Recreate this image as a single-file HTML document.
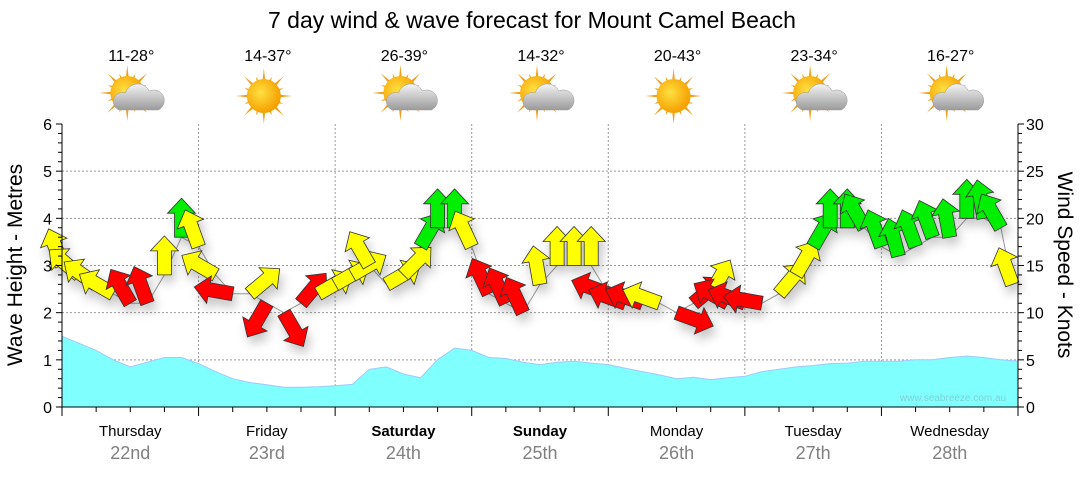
<!DOCTYPE html>
<html><head><meta charset="utf-8"><style>
body{margin:0;background:#fff;}
svg text{font-family:"Liberation Sans",sans-serif;}
</style></head><body>
<svg id="c" width="1080" height="475" viewBox="0 0 1080 475" xmlns="http://www.w3.org/2000/svg">
<defs>
<filter id="sh" x="-50%" y="-50%" width="200%" height="200%"><feDropShadow dx="3" dy="7" stdDeviation="5" flood-color="#000" flood-opacity="0.22"/></filter>
<radialGradient id="sun" cx="0.4" cy="0.4" r="0.6"><stop offset="0" stop-color="#ffe040"/><stop offset="1" stop-color="#f5a000"/></radialGradient>
<linearGradient id="cloud" x1="0" y1="0" x2="0" y2="1"><stop offset="0" stop-color="#f4f4f4"/><stop offset="1" stop-color="#9a9a9a"/></linearGradient>
</defs>
<text x="532" y="28" font-size="23" text-anchor="middle" fill="#000">7 day wind &amp; wave forecast for Mount Camel Beach</text>
<g id="grid"></g>
<g id="wave"></g>
<g id="arrows"></g>
<g id="axes"></g>
<g id="icons"></g>
<text x="953" y="401" font-size="10" fill="#7fd0d8" text-anchor="middle">www.seabreeze.com.au</text>
<text transform="translate(22,265) rotate(-90)" font-size="21" text-anchor="middle">Wave Height - Metres</text>
<text transform="translate(1058,265) rotate(90)" font-size="21" text-anchor="middle">Wind Speed - Knots</text>
</svg>
<script>
const days=["Thursday","Friday","Saturday","Sunday","Monday","Tuesday","Wednesday"];
const dates=["22nd","23rd","24th","25th","26th","27th","28th"];
const temps=["11-28°","14-37°","26-39°","14-32°","20-43°","23-34°","16-27°"];
const cloudy=[1,0,1,1,0,1,1];
const waveHours=[];for(let h=0;h<=168;h+=3)waveHours.push(h);
const waveValues=[1.5,1.35,1.2,1.0,0.85,0.95,1.05,1.05,0.92,0.75,0.6,0.52,0.47,0.42,0.42,0.43,0.45,0.48,0.8,0.85,0.7,0.62,1.0,1.25,1.2,1.05,1.03,0.95,0.9,0.95,0.97,0.93,0.9,0.82,0.75,0.68,0.6,0.63,0.58,0.62,0.65,0.75,0.8,0.85,0.88,0.92,0.93,0.97,0.97,0.97,1.0,1.0,1.05,1.08,1.05,1.0,0.97];
const windHours=[0,3,6,9,12,15,18,21,24,27,30,33,36,39,42,45,48,51,54,57,60,63,66,69,72,75,78,81,84,87,90,93,96,99,102,105,108,111,114,117,120,123,126,129,132,135,138,141,144,147,150,153,156,159,162,165,167];
const windSpeed=[15,14,13,12,11,11,14,18,17,14,12,12,11,10,11,12,13,14,15,13,14,17,19,19,17,12,11,10,13,15,15,15,12,11,11,11,10,11,12,11,11,11,12,14,17,19,19,19,17,16,17,18,18,20,20,19,13];
const windDir=[-20,-50,-55,-60,-30,-20,0,0,-20,-60,-80,50,210,150,40,60,60,60,-30,60,45,30,0,0,-25,-25,-25,-25,-10,0,0,0,-70,-70,-70,-70,110,50,30,-60,-70,-80,40,30,30,0,0,-30,-20,-15,-20,-20,-10,0,-10,-30,-20];
const windCol=["Y","Y","Y","Y","R","R","Y","G","Y","Y","R","Y","R","R","R","Y","Y","Y","Y","Y","Y","G","G","G","Y","R","R","R","Y","Y","Y","Y","R","R","R","Y","R","R","Y","R","R","R","Y","Y","G","G","G","G","G","G","G","G","G","G","G","G","Y"];
const X0=62,X1=1018,Y0=407,Y6=124;
const xs=h=>X0+h*(X1-X0)/168;
const yw=v=>Y0-v*(Y0-Y6)/6;
const yk=v=>Y0-v*(Y0-Y6)/30;
const NS="http://www.w3.org/2000/svg";
function mk(t,a,p){const e=document.createElementNS(NS,t);for(const k in a)e.setAttribute(k,a[k]);p.appendChild(e);return e;}
const grid=document.getElementById('grid'),axes=document.getElementById('axes');
for(let i=1;i<=5;i++){const l=mk('line',{x1:X0,x2:X1,y1:yw(i),y2:yw(i),stroke:'#999','stroke-dasharray':'2,2','stroke-width':1},grid);

}
for(let d=1;d<7;d++){const l=mk('line',{x1:xs(d*24),x2:xs(d*24),y1:Y6,y2:Y0,stroke:'#999','stroke-dasharray':'2,2'},grid);

}
let d='M'+xs(0)+','+Y0;waveHours.forEach((h,i)=>{d+=' L'+xs(h).toFixed(1)+','+yw(waveValues[i]).toFixed(1);});d+=' L'+X1+','+Y0+' Z';
const wa=mk('path',{d:d,fill:'#80ffff',stroke:'#a0c8ff','stroke-width':1},document.getElementById('wave'));


const ag=document.getElementById('arrows');
let ld='';windHours.forEach((h,i)=>{ld+=(i?' L':'M')+xs(h).toFixed(1)+','+yk(windSpeed[i]).toFixed(1);});
mk('path',{d:ld,fill:'none',stroke:'#999','stroke-width':1},ag);
const cols={Y:'#ffff00',R:'#ff0000',G:'#00ee00'};
const sg=mk('g',{filter:'url(#sh)'},ag);
windHours.forEach((h,i)=>{
 const p=mk('polygon',{points:'-7,0 7,0 7,-24 14,-24 0,-39 -14,-24 -7,-24',fill:cols[windCol[i]],stroke:'#333','stroke-width':0.8,transform:`translate(${xs(h).toFixed(1)},${yk(windSpeed[i]).toFixed(1)}) rotate(${windDir[i]})`},sg);
 
 
});
mk('line',{x1:X0,x2:X0,y1:Y6,y2:Y0,stroke:'#000'},axes);
mk('line',{x1:X1,x2:X1,y1:Y6,y2:Y0,stroke:'#000'},axes);
mk('line',{x1:X0,x2:X1,y1:Y0,y2:Y0,stroke:'#000'},axes);
for(let k=0;k<=30;k++){const y=yk(k),L=k%5==0?6:4;
 mk('line',{x1:X0-L,x2:X0,y1:y,y2:y,stroke:'#000'},axes);
 mk('line',{x1:X1,x2:X1+L,y1:y,y2:y,stroke:'#000'},axes);}
for(let v=0;v<=6;v++){const t=mk('text',{x:X0-10,y:yw(v)+6,'font-size':16,'text-anchor':'end'},axes);t.textContent=v;

}
for(let v=0;v<=30;v+=5){const t=mk('text',{x:X1+8,y:yk(v)+6,'font-size':16},axes);t.textContent=v;

}
for(let h=0;h<=168;h+=6){const maj=h%24==0;mk('line',{x1:xs(h),x2:xs(h),y1:Y0,y2:Y0+(maj?9:5),stroke:'#000'},axes);}
const icons=document.getElementById('icons');
days.forEach((dn,i)=>{const cx=xs(i*24+12);
 const t=mk('text',{x:cx,y:436,'font-size':15,'text-anchor':'middle','font-weight':(i==2||i==3)?'bold':'normal'},axes);t.textContent=dn;
 
 
 const t2=mk('text',{x:cx,y:459,'font-size':18,'text-anchor':'middle',fill:'#808080'},axes);t2.textContent=dates[i];
 
 
 const t3=mk('text',{x:cx+1,y:61,'font-size':16,'text-anchor':'middle'},icons);t3.textContent=temps[i];
 
 
 const g=mk('g',{transform:`translate(${cx-3},${cloudy[i]?93:96})`},icons);
 
 
 for(let r=0;r<16;r++){const a=r*Math.PI/8,L=r%2?21:28;
  mk('polygon',{points:`${Math.cos(a-0.13)*13},${Math.sin(a-0.13)*13} ${Math.cos(a)*L},${Math.sin(a)*L} ${Math.cos(a+0.13)*13},${Math.sin(a+0.13)*13}`,fill:'#f0a020'},g);}
 mk('circle',{cx:0,cy:0,r:17,fill:'url(#sun)'},g);
 if(cloudy[i]){mk('path',{d:'M-8,17 A9,9 0 0 1 -2,0 A13,13 0 0 1 22,-2 A9,9 0 0 1 31,17 Z',fill:'url(#cloud)',stroke:'#999','stroke-width':0.5},g);}
});
</script>
</body></html>
